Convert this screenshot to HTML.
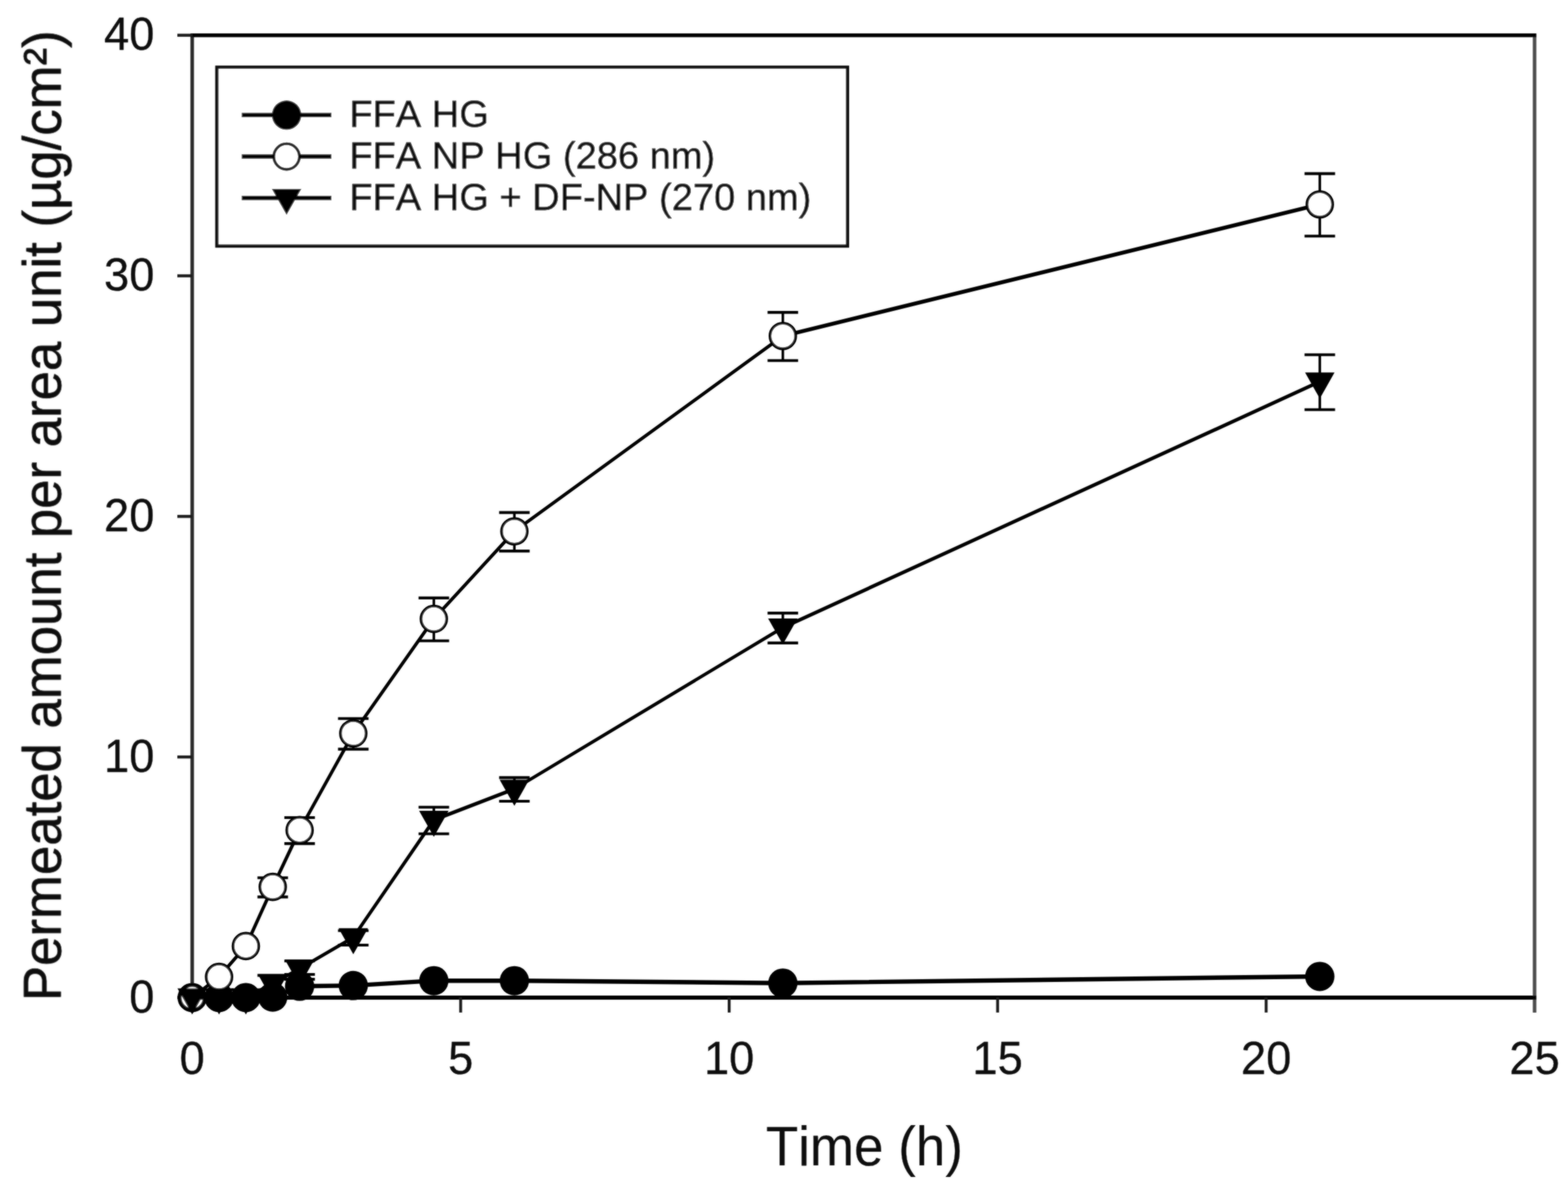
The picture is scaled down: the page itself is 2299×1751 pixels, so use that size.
<!DOCTYPE html>
<html lang="en"><head><meta charset="utf-8"><title>Permeated amount per area unit vs time</title>
<style>
html,body{margin:0;padding:0;background:#fff;}
body{width:2299px;height:1751px;overflow:hidden;}
svg{display:block;}
text{font-family:'Liberation Sans', Arial, Helvetica, sans-serif;fill:#0c0c0c;stroke:#0c0c0c;stroke-linejoin:round;font-kerning:none;font-variant-ligatures:none;}
</style></head><body>
<svg width="2299" height="1751" viewBox="0 0 2299 1751">
<rect x="0" y="0" width="2299" height="1751" fill="#ffffff"/>
<defs><filter id="soft" x="0" y="0" width="2299" height="1751" filterUnits="userSpaceOnUse"><feGaussianBlur in="SourceGraphic" stdDeviation="1" result="b"/><feComposite in="SourceGraphic" in2="b" operator="arithmetic" k1="0" k2="0.45" k3="0.55" k4="0"/></filter></defs>
<g filter="url(#soft)">
<g stroke="#000" fill="none" stroke-linecap="butt">
<line x1="281.8" y1="49.2" x2="281.8" y2="1465.9" stroke-width="5.2" stroke="#2b2b2b"/>
<line x1="2250.0" y1="49.2" x2="2250.0" y2="1484.9" stroke-width="5.2" stroke="#4d4d4d"/>
<line x1="279.8" y1="51.7" x2="2252.4" y2="51.7" stroke-width="5.4"/>
<line x1="279.8" y1="1462.9" x2="2252.4" y2="1462.9" stroke-width="6"/>
<line x1="281.8" y1="1462.9" x2="281.8" y2="1484.9" stroke-width="4.2" stroke="#1c1c1c"/>
<line x1="675.4" y1="1462.9" x2="675.4" y2="1484.9" stroke-width="4.2" stroke="#1c1c1c"/>
<line x1="1069.1" y1="1462.9" x2="1069.1" y2="1484.9" stroke-width="4.2" stroke="#1c1c1c"/>
<line x1="1462.7" y1="1462.9" x2="1462.7" y2="1484.9" stroke-width="4.2" stroke="#1c1c1c"/>
<line x1="1856.4" y1="1462.9" x2="1856.4" y2="1484.9" stroke-width="4.2" stroke="#1c1c1c"/>
<line x1="260.0" y1="1462.9" x2="281.8" y2="1462.9" stroke-width="4.4" stroke="#1c1c1c"/>
<line x1="260.0" y1="1110.1" x2="281.8" y2="1110.1" stroke-width="4.4" stroke="#1c1c1c"/>
<line x1="260.0" y1="757.3" x2="281.8" y2="757.3" stroke-width="4.4" stroke="#1c1c1c"/>
<line x1="260.0" y1="404.5" x2="281.8" y2="404.5" stroke-width="4.4" stroke="#1c1c1c"/>
<line x1="260.0" y1="51.7" x2="281.8" y2="51.7" stroke-width="4.4" stroke="#1c1c1c"/>
</g>
<text transform="translate(281.8,1575.0) scale(1,1.020)" font-size="66.4px" text-anchor="middle" stroke-width="0.30">0</text>
<text transform="translate(675.4,1575.0) scale(1,1.020)" font-size="66.4px" text-anchor="middle" stroke-width="0.30">5</text>
<text transform="translate(1069.1,1575.0) scale(1,1.020)" font-size="66.4px" text-anchor="middle" stroke-width="0.30">10</text>
<text transform="translate(1462.7,1575.0) scale(1,1.020)" font-size="66.4px" text-anchor="middle" stroke-width="0.30">15</text>
<text transform="translate(1856.4,1575.0) scale(1,1.020)" font-size="66.4px" text-anchor="middle" stroke-width="0.30">20</text>
<text transform="translate(2250.0,1575.0) scale(1,1.020)" font-size="66.4px" text-anchor="middle" stroke-width="0.30">25</text>
<text transform="translate(226.4,1484.5) scale(1,1.020)" font-size="66.4px" text-anchor="end" stroke-width="0.30">0</text>
<text transform="translate(226.4,1131.7) scale(1,1.020)" font-size="66.4px" text-anchor="end" stroke-width="0.30">10</text>
<text transform="translate(226.4,778.9) scale(1,1.020)" font-size="66.4px" text-anchor="end" stroke-width="0.30">20</text>
<text transform="translate(226.4,426.1) scale(1,1.020)" font-size="66.4px" text-anchor="end" stroke-width="0.30">30</text>
<text transform="translate(226.4,73.3) scale(1,1.020)" font-size="66.4px" text-anchor="end" stroke-width="0.30">40</text>
<text transform="translate(1267.3,1709.0) scale(1,1.045)" font-size="77.6px" text-anchor="middle" stroke-width="0.20">Time (h)</text>
<text transform="translate(88.6,756.2) rotate(-90) scale(1,1.010)" font-size="77.3px" text-anchor="middle" stroke-width="0.80">Permeated amount per area unit (µg/cm²)</text>
<g>
<line x1="281.8" y1="1462.9" x2="321.2" y2="1462.9" stroke="#000" stroke-width="6.50" stroke-linecap="round"/>
<line x1="321.2" y1="1462.9" x2="360.5" y2="1462.9" stroke="#000" stroke-width="6.50" stroke-linecap="round"/>
<line x1="360.5" y1="1462.9" x2="399.9" y2="1462.2" stroke="#000" stroke-width="6.45" stroke-linecap="round"/>
<line x1="399.9" y1="1462.2" x2="439.3" y2="1446.3" stroke="#000" stroke-width="5.33" stroke-linecap="round"/>
<line x1="439.3" y1="1446.3" x2="518.0" y2="1445.3" stroke="#000" stroke-width="6.46" stroke-linecap="round"/>
<line x1="518.0" y1="1445.3" x2="636.1" y2="1438.2" stroke="#000" stroke-width="6.32" stroke-linecap="round"/>
<line x1="636.1" y1="1438.2" x2="754.2" y2="1438.2" stroke="#000" stroke-width="6.50" stroke-linecap="round"/>
<line x1="754.2" y1="1438.2" x2="1147.8" y2="1441.7" stroke="#000" stroke-width="6.47" stroke-linecap="round"/>
<line x1="1147.8" y1="1441.7" x2="1935.1" y2="1431.9" stroke="#000" stroke-width="6.46" stroke-linecap="round"/>
<path d="M439.3 1436.1V1447.0" stroke="#000" stroke-width="3.7" fill="none"/>
<path d="M416.9 1436.1H461.7" stroke="#000" stroke-width="4.1" fill="none"/>
<circle cx="281.8" cy="1462.9" r="21.5" fill="#000"/>
<circle cx="321.2" cy="1462.9" r="21.5" fill="#000"/>
<circle cx="360.5" cy="1462.9" r="21.5" fill="#000"/>
<circle cx="399.9" cy="1462.2" r="21.5" fill="#000"/>
<circle cx="439.3" cy="1446.3" r="21.5" fill="#000"/>
<circle cx="518.0" cy="1445.3" r="21.5" fill="#000"/>
<circle cx="636.1" cy="1438.2" r="21.5" fill="#000"/>
<circle cx="754.2" cy="1438.2" r="21.5" fill="#000"/>
<circle cx="1147.8" cy="1441.7" r="21.5" fill="#000"/>
<circle cx="1935.1" cy="1431.9" r="21.5" fill="#000"/>
</g>
<g>
<line x1="281.8" y1="1462.9" x2="321.2" y2="1432.6" stroke="#000" stroke-width="4.90" stroke-linecap="round"/>
<line x1="321.2" y1="1432.6" x2="360.5" y2="1387.4" stroke="#000" stroke-width="4.90" stroke-linecap="round"/>
<line x1="360.5" y1="1387.4" x2="399.9" y2="1300.6" stroke="#000" stroke-width="4.90" stroke-linecap="round"/>
<line x1="399.9" y1="1300.6" x2="439.3" y2="1217.4" stroke="#000" stroke-width="4.90" stroke-linecap="round"/>
<line x1="439.3" y1="1217.4" x2="518.0" y2="1075.5" stroke="#000" stroke-width="4.90" stroke-linecap="round"/>
<line x1="518.0" y1="1075.5" x2="636.1" y2="907.6" stroke="#000" stroke-width="4.90" stroke-linecap="round"/>
<line x1="636.1" y1="907.6" x2="754.2" y2="779.2" stroke="#000" stroke-width="4.90" stroke-linecap="round"/>
<line x1="754.2" y1="779.2" x2="1147.8" y2="492.7" stroke="#000" stroke-width="4.90" stroke-linecap="round"/>
<line x1="1147.8" y1="492.7" x2="1935.1" y2="299.7" stroke="#000" stroke-width="5.77" stroke-linecap="round"/>
<path d="M399.9 1287.2V1315.4" stroke="#000" stroke-width="3.7" fill="none"/>
<path d="M377.5 1287.2H422.3M377.5 1315.4H422.3" stroke="#000" stroke-width="4.1" fill="none"/>
<path d="M439.3 1199.0V1237.1" stroke="#000" stroke-width="3.7" fill="none"/>
<path d="M416.9 1199.0H461.7M416.9 1237.1H461.7" stroke="#000" stroke-width="4.1" fill="none"/>
<path d="M518.0 1053.8V1098.6" stroke="#000" stroke-width="3.7" fill="none"/>
<path d="M495.6 1053.8H540.4M495.6 1098.6H540.4" stroke="#000" stroke-width="4.1" fill="none"/>
<path d="M636.1 876.9V939.7" stroke="#000" stroke-width="3.7" fill="none"/>
<path d="M613.7 876.9H658.5M613.7 939.7H658.5" stroke="#000" stroke-width="4.1" fill="none"/>
<path d="M754.2 751.6V808.1" stroke="#000" stroke-width="3.7" fill="none"/>
<path d="M731.8 751.6H776.6M731.8 808.1H776.6" stroke="#000" stroke-width="4.1" fill="none"/>
<path d="M1147.8 458.1V528.7" stroke="#000" stroke-width="3.7" fill="none"/>
<path d="M1125.4 458.1H1170.2M1125.4 528.7H1170.2" stroke="#000" stroke-width="4.1" fill="none"/>
<path d="M1935.1 254.6V346.3" stroke="#000" stroke-width="3.7" fill="none"/>
<path d="M1912.7 254.6H1957.5M1912.7 346.3H1957.5" stroke="#000" stroke-width="4.1" fill="none"/>
<circle cx="281.8" cy="1462.9" r="18.2" fill="#fff" stroke="#000" stroke-width="5.2"/>
<circle cx="321.2" cy="1432.6" r="18.8" fill="#fff" stroke="#000" stroke-width="4.0"/>
<circle cx="360.5" cy="1387.4" r="18.8" fill="#fff" stroke="#000" stroke-width="4.0"/>
<circle cx="399.9" cy="1300.6" r="18.8" fill="#fff" stroke="#000" stroke-width="4.0"/>
<circle cx="439.3" cy="1217.4" r="18.8" fill="#fff" stroke="#000" stroke-width="4.0"/>
<circle cx="518.0" cy="1075.5" r="18.8" fill="#fff" stroke="#000" stroke-width="4.0"/>
<circle cx="636.1" cy="907.6" r="18.8" fill="#fff" stroke="#000" stroke-width="4.0"/>
<circle cx="754.2" cy="779.2" r="18.8" fill="#fff" stroke="#000" stroke-width="4.0"/>
<circle cx="1147.8" cy="492.7" r="18.8" fill="#fff" stroke="#000" stroke-width="4.0"/>
<circle cx="1935.1" cy="299.7" r="18.8" fill="#fff" stroke="#000" stroke-width="4.0"/>
</g>
<g>
<line x1="281.8" y1="1462.9" x2="321.2" y2="1462.9" stroke="#000" stroke-width="6.50" stroke-linecap="round"/>
<line x1="321.2" y1="1462.9" x2="360.5" y2="1462.9" stroke="#000" stroke-width="6.50" stroke-linecap="round"/>
<line x1="360.5" y1="1462.9" x2="399.9" y2="1442.4" stroke="#000" stroke-width="5.04" stroke-linecap="round"/>
<line x1="399.9" y1="1442.4" x2="439.3" y2="1420.6" stroke="#000" stroke-width="4.95" stroke-linecap="round"/>
<line x1="439.3" y1="1420.6" x2="518.0" y2="1374.7" stroke="#000" stroke-width="4.90" stroke-linecap="round"/>
<line x1="518.0" y1="1374.7" x2="636.1" y2="1202.5" stroke="#000" stroke-width="4.90" stroke-linecap="round"/>
<line x1="636.1" y1="1202.5" x2="754.2" y2="1157.0" stroke="#000" stroke-width="5.38" stroke-linecap="round"/>
<line x1="754.2" y1="1157.0" x2="1147.8" y2="920.3" stroke="#000" stroke-width="4.90" stroke-linecap="round"/>
<line x1="1147.8" y1="920.3" x2="1935.1" y2="559.7" stroke="#000" stroke-width="5.19" stroke-linecap="round"/>
<path d="M399.9 1430.4V1443.1" stroke="#000" stroke-width="3.7" fill="none"/>
<path d="M377.5 1430.4H422.3" stroke="#000" stroke-width="4.1" fill="none"/>
<path d="M439.3 1409.3V1429.0" stroke="#000" stroke-width="3.7" fill="none"/>
<path d="M416.9 1409.3H461.7M416.9 1429.0H461.7" stroke="#000" stroke-width="4.1" fill="none"/>
<path d="M518.0 1364.8V1386.0" stroke="#000" stroke-width="3.7" fill="none"/>
<path d="M495.6 1364.8H540.4M495.6 1386.0H540.4" stroke="#000" stroke-width="4.1" fill="none"/>
<path d="M636.1 1183.7V1222.8" stroke="#000" stroke-width="3.7" fill="none"/>
<path d="M613.7 1183.7H658.5M613.7 1222.8H658.5" stroke="#000" stroke-width="4.1" fill="none"/>
<path d="M754.2 1140.4V1175.0" stroke="#000" stroke-width="3.7" fill="none"/>
<path d="M731.8 1140.4H776.6M731.8 1175.0H776.6" stroke="#000" stroke-width="4.1" fill="none"/>
<path d="M1147.8 899.1V942.9" stroke="#000" stroke-width="3.7" fill="none"/>
<path d="M1125.4 899.1H1170.2M1125.4 942.9H1170.2" stroke="#000" stroke-width="4.1" fill="none"/>
<path d="M1935.1 520.2V600.7" stroke="#000" stroke-width="3.7" fill="none"/>
<path d="M1912.7 520.2H1957.5M1912.7 600.7H1957.5" stroke="#000" stroke-width="4.1" fill="none"/>
<path d="M260.2 1449.5H303.4L281.8 1487.7Z" fill="#000"/>
<path d="M299.6 1449.5H342.8L321.2 1487.7Z" fill="#000"/>
<path d="M338.9 1449.5H382.1L360.5 1487.7Z" fill="#000"/>
<path d="M378.3 1429.0H421.5L399.9 1467.2Z" fill="#000"/>
<path d="M417.7 1407.2H460.9L439.3 1445.4Z" fill="#000"/>
<path d="M496.4 1361.3H539.6L518.0 1399.5Z" fill="#000"/>
<path d="M614.5 1189.1H657.7L636.1 1227.3Z" fill="#000"/>
<path d="M732.6 1143.6H775.8L754.2 1181.8Z" fill="#000"/>
<path d="M1126.2 906.9H1169.4L1147.8 945.1Z" fill="#000"/>
<path d="M1913.5 546.3H1956.7L1935.1 584.5Z" fill="#000"/>
</g>
<rect x="318.0" y="98.6" width="924.6" height="262.2" fill="#fff" stroke="#111" stroke-width="4.8"/>
<line x1="354.5" y1="168.8" x2="486" y2="168.8" stroke="#000" stroke-width="6.5"/>
<circle cx="420.2" cy="168.8" r="21.5" fill="#000"/>
<text transform="translate(512.2,186.3) scale(1,1.000)" font-size="55.8px" text-anchor="start" stroke-width="0.80">FFA HG</text>
<line x1="354.5" y1="229.6" x2="486" y2="229.6" stroke="#000" stroke-width="6.5"/>
<circle cx="420.2" cy="229.6" r="18.8" fill="#fff" stroke="#000" stroke-width="4.0"/>
<text transform="translate(512.2,247.1) scale(1,1.000)" font-size="55.8px" text-anchor="start" stroke-width="0.80">FFA NP HG (286 nm)</text>
<line x1="354.5" y1="290.3" x2="486" y2="290.3" stroke="#000" stroke-width="6.5"/>
<path d="M398.6 276.9H441.8L420.2 315.1Z" fill="#000"/>
<text transform="translate(512.2,307.8) scale(1,1.000)" font-size="55.8px" text-anchor="start" stroke-width="0.80">FFA HG + DF-NP (270 nm)</text>
</g>
</svg>
</body></html>
